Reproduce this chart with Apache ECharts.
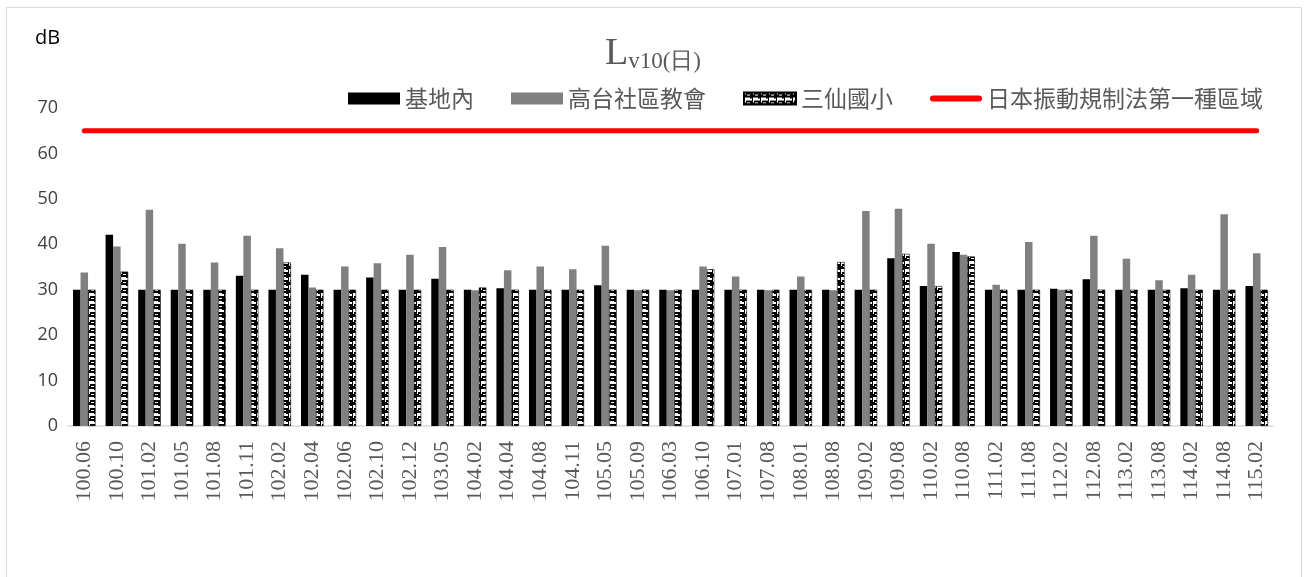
<!DOCTYPE html>
<html>
<head>
<meta charset="utf-8">
<script src="https://cdn.jsdelivr.net/npm/echarts@6/dist/echarts.min.js"></script>
<style>html,body{margin:0;padding:0;background:#fff}#c{width:1306px;height:577px}</style>
</head>
<body>
<div id="c"></div>
<script>
const categories = ['100.06','100.10','101.02','101.05','101.08','101.11','102.02','102.04','102.06','102.10','102.12','103.05','104.02','104.04','104.08','104.11','105.05','105.09','106.03','106.10','107.01','107.08','108.01','108.08','109.02','109.08','110.02','110.08','111.02','111.08','112.02','112.08','113.02','113.08','114.02','114.08','115.02'];
const baseInside = [30,42.1,30,30,30,33.1,30,33.3,30,32.7,30,32.4,30,30.3,30,30,31.0,30,30,30,30,30,30,30,30,36.9,30.8,38.3,30,30,30.2,32.3,30,30,30.3,30,30.8];
const gaotaiChurch = [33.8,39.5,47.6,40.1,36.0,41.9,39.1,30.5,35.1,35.8,37.7,39.4,29.9,34.3,35.1,34.5,39.7,29.9,29.9,35.1,32.9,29.9,32.9,29.9,47.3,47.8,40.1,37.7,31.1,40.5,30.0,41.9,36.8,32.1,33.3,46.6,38.0];
const sanxianSchool = [30,34.0,30,30,30,30,36.0,30,30,30,30,30,30.5,30,30,30,30,30,30,34.5,30,30,30,36.1,30,37.9,30.8,37.3,30,30,30,30,30,30,30,30,30];
const japanStandard = [65,65,65,65,65,65,65,65,65,65,65,65,65,65,65,65,65,65,65,65,65,65,65,65,65,65,65,65,65,65,65,65,65,65,65,65,65];
const yTicks = [0,10,20,30,40,50,60,70];
const legendNames = ['基地內','高台社區教會','三仙國小','日本振動規制法第一種區域'];

// checker-like pattern for 三仙國小
const pc = document.createElement('canvas');
pc.width = 8; pc.height = 8;
const g = pc.getContext('2d');
g.fillStyle = '#fff'; g.fillRect(0,0,8,8);
g.fillStyle = '#000';
g.fillRect(0,0,8,5);
g.fillStyle = '#fff';
g.fillRect(3,2,3,1);
g.fillRect(0,0,2,2);
g.fillStyle = '#000';
g.fillRect(0,0,1,8);
g.fillRect(6,5,2,1);

const chart = echarts.init(document.getElementById('c'));
chart.setOption({
  animation: false,
  backgroundColor: '#fff',
  graphic: [
    {type:'rect', shape:{x:6.5,y:7.5,width:1295,height:620}, style:{fill:'none', stroke:'#d9d9d9', lineWidth:1}},
    {type:'text', left:35, top:28, style:{text:'dB', fontFamily:'Open Sans', fontSize:20, fill:'#000'}}
  ],
  title: {
    text: '{l|L}{s|v10(日)}',
    left: 'center', top: 30,
    textStyle: {
      fontWeight: 'normal',
      rich: {
        l: {fontFamily: 'Liberation Serif', fontSize: 38, fontWeight:'normal', color: '#595959', lineHeight: 38},
        s: {fontFamily: 'Liberation Serif', fontSize: 23, fontWeight:'normal', color: '#595959', lineHeight: 23, padding:[16,0,0,0]}
      }
    }
  },
  legend: {
    top: 82, left: 343,
    itemGap: 37,
    itemWidth: 52, itemHeight: 12,
    textStyle: {fontFamily: 'Noto Sans CJK TC', fontSize: 23, color: '#595959'},
    data: [
      {name:legendNames[0], icon:'rect'},
      {name:legendNames[1], icon:'rect'},
      {name:legendNames[2], icon:'rect'},
      {name:legendNames[3], icon:'path://M3,0 L49,0 A3,3 0 0 1 49,6 L3,6 A3,3 0 0 1 3,0 Z'}
    ]
  },
  grid: {left: 68, right: 33, top: 108, bottom: 151, containLabel: false},
  xAxis: {
    type: 'category',
    data: categories,
    axisLine: {lineStyle: {color: '#d9d9d9', width: 1.5}},
    axisTick: {show: false},
    axisLabel: {rotate: 90, margin: 15, interval: 0,
      formatter: v => '{a|' + v + '}',
      rich: {a: {fontFamily: 'Liberation Serif', fontSize: 22, color: '#595959'}}}
  },
  yAxis: {
    type: 'value', min: 0, max: 70, interval: 10,
    axisLine: {show: false}, axisTick: {show: false},
    splitLine: {show: false},
    axisLabel: {fontFamily: 'Open Sans', fontSize: 18, color: '#404040', margin: 10,
      formatter: v => yTicks.includes(v) ? String(v) : ''}
  },
  series: [
    {name:legendNames[0], type:'bar', data: baseInside, barWidth: 7.5, barGap: '0%', itemStyle:{color:'#000'}},
    {name:legendNames[1], type:'bar', data: gaotaiChurch, barWidth: 7.5, barGap: '0%', itemStyle:{color:'#808080'}},
    {name:legendNames[2], type:'bar', data: sanxianSchool, barWidth: 7.5, barGap: '0%',
      itemStyle:{color:{image: pc, repeat:'repeat'}, borderColor:'#000', borderWidth:0.6}},
    {name:legendNames[3], type:'line', data: japanStandard, symbol:'none',
      lineStyle:{color:'#ff0000', width:5, cap:'round'}, itemStyle:{color:'#ff0000'}}
  ]
});
</script>
</body>
</html>
